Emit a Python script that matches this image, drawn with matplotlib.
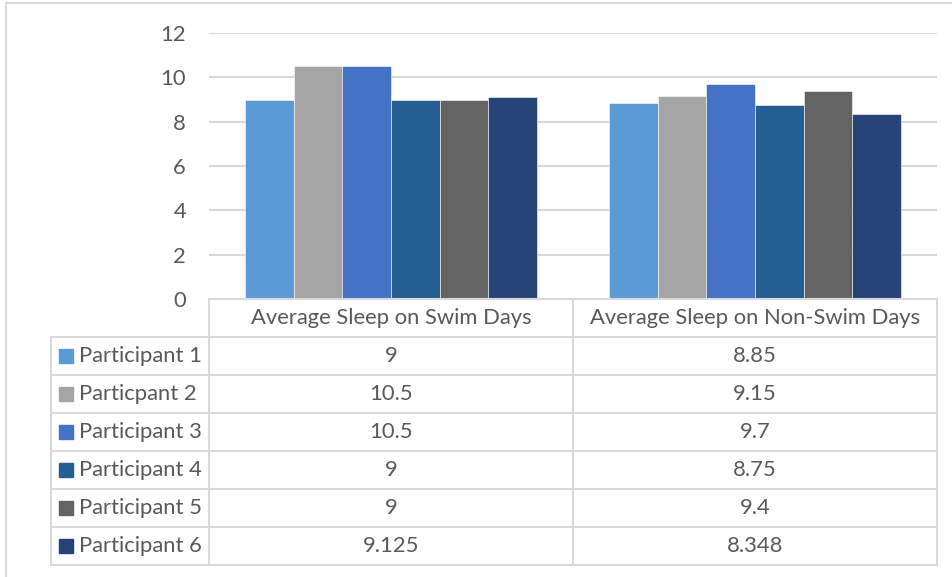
import matplotlib
matplotlib.use("Agg")
import matplotlib.pyplot as plt
import numpy as np

categories = ["Average Sleep on Swim Days", "Average Sleep on Non-Swim Days"]
series_names = ["Participant 1", "Particpant 2", "Participant 3",
                "Participant 4", "Participant 5", "Participant 6"]
swim_values = [9, 10.5, 10.5, 9, 9, 9.125]
nonswim_values = [8.85, 9.15, 9.7, 8.75, 9.4, 8.348]
colors = ["#5B9BD5", "#A5A5A5", "#4472C4", "#255E91", "#636363", "#264478"]
yticks = [0, 2, 4, 6, 8, 10, 12]

plt.rcParams['font.family'] = ['Lato', 'DejaVu Sans']
TXT = "#595959"
GRID = "#D9D9D9"

W, H = 953, 577
fig = plt.figure(figsize=(W / 100, H / 100), dpi=100)

# plot area in pixels
px_l, px_r, px_top, px_bot = 209, 937, 33, 299
ax = fig.add_axes([px_l / W, 1 - px_bot / H, (px_r - px_l) / W, (px_bot - px_top) / H])
ax.set_xlim(-0.5, len(categories) - 0.5)
ax.set_ylim(0, 12)
n = len(series_names)
bw = 1 / (n + 1.5)
x = np.arange(len(categories))
for i in range(n):
    vals = [swim_values[i], nonswim_values[i]]
    ax.bar(x + (i - (n - 1) / 2) * bw, vals, width=bw, color=colors[i],
           edgecolor="white", linewidth=0.4, zorder=3)
ax.set_yticks(yticks)
ax.yaxis.grid(True, color=GRID, linewidth=1.5, zorder=0)
for s in ax.spines.values():
    s.set_visible(False)
ax.tick_params(axis='y', length=0, labelsize=15.8, colors=TXT, pad=16.5)
ax.set_xticks([])

# overlay for table and frame
ov = fig.add_axes([0, 0, 1, 1], zorder=5)
ov.set_xlim(0, W)
ov.set_ylim(H, 0)
ov.axis('off')
ov.patch.set_alpha(0)

lw = 1.5
# chart frame (top and left)
ov.plot([6, W], [3, 3], color=GRID, lw=lw)
ov.plot([6, 6], [3, H], color=GRID, lw=lw)

col_x = [51, 209, 573, 937]
row_h = 38.0
header_top = 299
rows_top = header_top + row_h
rows_bot = rows_top + n * row_h

# header row (only category columns)
ov.plot([209, 937], [header_top, header_top], color=GRID, lw=lw)
for cx in [209, 573, 937]:
    ov.plot([cx, cx], [header_top, rows_bot], color=GRID, lw=lw)
ov.plot([51, 51], [rows_top, rows_bot], color=GRID, lw=lw)
for r in range(n + 1):
    yy = rows_top + r * row_h
    ov.plot([51, 937], [yy, yy], color=GRID, lw=lw)

fs = 15.8
for j, cat in enumerate(categories):
    ov.text((col_x[j + 1] + col_x[j + 2]) / 2, header_top + row_h / 2, cat,
            ha='center', va='center', fontsize=fs, color=TXT)

for i in range(n):
    yc = rows_top + i * row_h + row_h / 2
    ov.add_patch(plt.Rectangle((59, yc - 7), 14, 14, color=colors[i]))
    ov.text(79, yc, series_names[i], ha='left', va='center', fontsize=fs, color=TXT)
    for j, vals in enumerate([swim_values, nonswim_values]):
        ov.text((col_x[j + 1] + col_x[j + 2]) / 2, yc, f"{vals[i]:g}",
                ha='center', va='center', fontsize=fs, color=TXT)

fig.savefig("out.png", dpi=100)
